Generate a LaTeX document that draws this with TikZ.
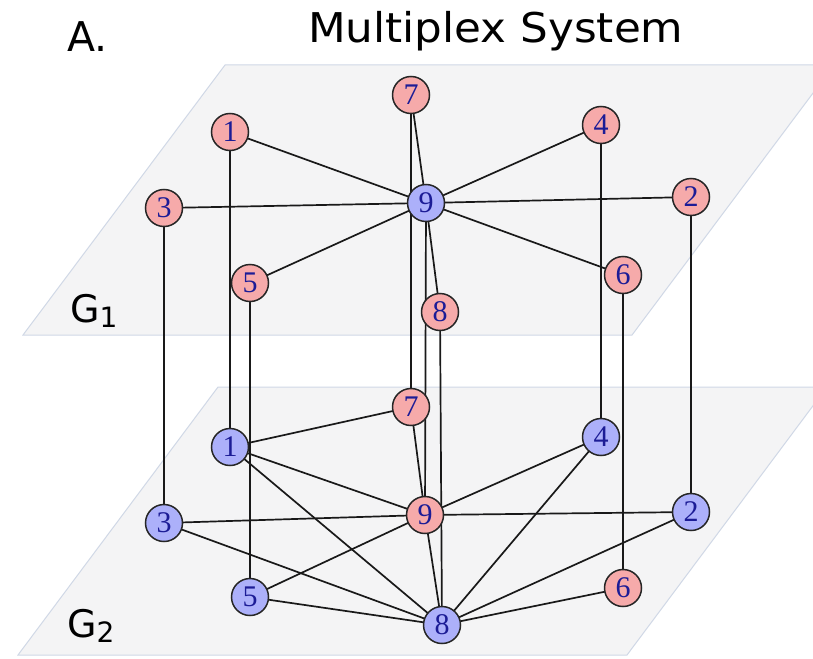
\documentclass[tikz,border=0pt]{standalone}
\usepackage{fontspec}
\setmainfont{Liberation Serif}
\newfontfamily\labelfont{DejaVu Sans}
\definecolor{planefill}{RGB}{244,244,245}
\definecolor{planeedge}{RGB}{208,216,230}
\definecolor{pinknode}{RGB}{246,170,170}
\definecolor{bluenode}{RGB}{172,176,250}
\definecolor{digitblue}{RGB}{28,28,150}
\tikzset{
  plane/.style={fill=planefill, draw=planeedge, line width=1pt},
  vnode/.style={circle, draw=black!85, line width=1.5pt, minimum size=37pt, inner sep=0pt,
     text=digitblue, font=\fontsize{30}{30}\selectfont},
  pk/.style={vnode, fill=pinknode},
  bl/.style={vnode, fill=bluenode},
  link/.style={line width=1.7pt, black!90},
  title/.style={font=\labelfont\fontsize{41}{41}\selectfont, inner sep=0pt, anchor=base west},
  glabel/.style={font=\labelfont\fontsize{38}{38}\selectfont, inner sep=0pt, anchor=base west}
}
\begin{document}
\begin{tikzpicture}[x=1pt,y=-1pt]
\clip (0,0) rectangle (813,658);
\fill[white] (0,0) rectangle (813,658);
% planes
\draw[plane] (225,65) -- (834,65) -- (632,335) -- (23,335) -- cycle;
\draw[plane] (218,387) -- (827,387) -- (627,655) -- (18,655) -- cycle;
% labels
\node[title] (lblA) at (67,52) {A.};
\node[title] (lblT) at (308,43) {\scalebox{1.065}[1]{Multiplex System}};
\node[glabel] (g1) at (70,322) {G\raisebox{-5pt}{\fontsize{28}{28}\selectfont 1}};
\node[glabel] (g2) at (67,637) {G\raisebox{-5pt}{\fontsize{28}{28}\selectfont 2}};
% coordinates of nodes
\coordinate (c1) at (230,132); \coordinate (c2) at (691,197); \coordinate (c3) at (164,208);
\coordinate (c4) at (601,125); \coordinate (c5) at (250,283); \coordinate (c6) at (623,275);
\coordinate (c7) at (411,95);  \coordinate (c8) at (440,312); \coordinate (c9) at (426,203);
\coordinate (d1) at (230,447); \coordinate (d2) at (691,512); \coordinate (d3) at (164,523);
\coordinate (d4) at (601,437); \coordinate (d5) at (250,597); \coordinate (d6) at (623,588);
\coordinate (d7) at (411,407); \coordinate (d8) at (442,625); \coordinate (d9) at (425,515);
% interlayer links
\foreach \i in {1,...,9} { \draw[link] (c\i) -- (d\i); }
% layer 1 links
\foreach \i in {1,2,3,4,5,6,7,8} { \draw[link] (c9) -- (c\i); }
% layer 2 links
\foreach \a/\b in {d1/d7, d1/d9, d1/d8, d7/d9, d3/d9, d3/d8, d9/d2, d9/d4, d9/d5, d9/d8,
                   d5/d8, d4/d8, d2/d8, d6/d8} { \draw[link] (\a) -- (\b); }
% layer 1 nodes
\node[pk] (t1) at (c1) {1}; \node[pk] (t2) at (c2) {2}; \node[pk] (t3) at (c3) {3};
\node[pk] (t4) at (c4) {4}; \node[pk] (t5) at (c5) {5}; \node[pk] (t6) at (c6) {6};
\node[pk] (t7) at (c7) {7}; \node[pk] (t8) at (c8) {8}; \node[bl] (t9) at (c9) {9};
% layer 2 nodes
\node[bl] (b1) at (d1) {1}; \node[bl] (b2) at (d2) {2}; \node[bl] (b3) at (d3) {3};
\node[bl] (b4) at (d4) {4}; \node[bl] (b5) at (d5) {5}; \node[pk] (b6) at (d6) {6};
\node[pk] (b7) at (d7) {7}; \node[bl] (b8) at (d8) {8}; \node[pk] (b9) at (d9) {9};
\end{tikzpicture}
\end{document}
